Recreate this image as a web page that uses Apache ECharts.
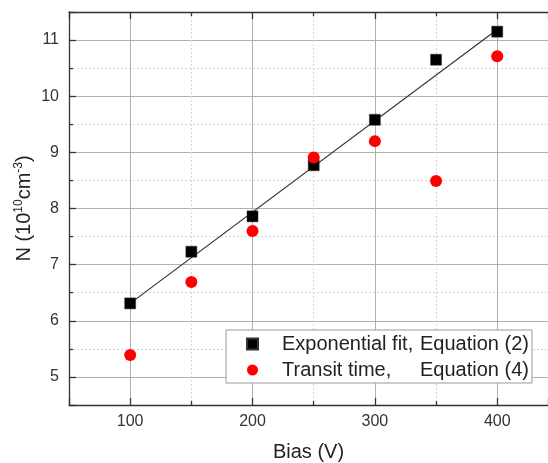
<!DOCTYPE html>
<html>
<head>
<meta charset="utf-8">
<script src="https://cdn.jsdelivr.net/npm/echarts@6/dist/echarts.min.js"></script>
<style>
  html, body { margin: 0; padding: 0; background: #fff; }
  #chart { width: 548px; height: 463px; }
</style>
</head>
<body>
<div id="chart"></div>
<script>
// bias voltage (V)
const biasV = [100, 150, 200, 250, 300, 350, 400];
// N from exponential fit, Equation (2)
const expFitN = [6.31, 7.23, 7.86, 8.77, 9.58, 10.65, 11.15];
// N from transit time, Equation (4)
const transitN = [5.39, 6.69, 7.60, 8.91, 9.20, 8.49, 10.71];
// straight fit line through the squares
const fitLineX = [100, 400];
const fitLineN = [6.31, 11.19];

const seriesNames = ["Exponential fit, Equation (2)", "Transit time,     Equation (4)"];

const font = "Liberation Sans, Arial, sans-serif";

const chart = echarts.init(document.getElementById("chart"), null, { renderer: "canvas" });

function pairs(xs, ys) {
  return xs.map((x, i) => [x, ys[i]]);
}

// the frame runs off the right side of the picture, so the axis stops where the canvas does
const xMin = 50;
const xMax = 441.5;

const axisColor = "#333";
const majorSplit = { show: true, lineStyle: { color: "#b0b0b0", width: 1, type: "solid" } };
const minorSplit = { show: true, lineStyle: { color: "#d4d4d4", width: 1, type: [2, 2] } };

const option = {
  animation: false,
  backgroundColor: "#fff",
  grid: { left: 69, top: 12, right: 0, bottom: 58, containLabel: false, outerBoundsMode: "none" },
  xAxis: [
    {
      type: "value",
      min: xMin,
      max: xMax,
      splitNumber: 4,
      minInterval: 100,
      maxInterval: 100,
      name: "Bias (V)",
      nameLocation: "middle",
      nameGap: 37,
      nameTextStyle: { fontFamily: font, fontSize: 20, color: "#222" },
      axisLine: { show: true, onZero: false, lineStyle: { color: axisColor, width: 1.3 } },
      axisTick: { show: true, inside: true, length: 7, lineStyle: { color: axisColor, width: 1.3 } },
      minorTick: { show: true, splitNumber: 2, length: 4, lineStyle: { color: axisColor, width: 1.3 } },
      axisLabel: { fontFamily: font, fontSize: 16, color: "#333", margin: 9, showMinLabel: false, showMaxLabel: false },
      splitLine: majorSplit,
      minorSplitLine: minorSplit
    },
    {
      type: "value",
      position: "top",
      min: xMin,
      max: xMax,
      splitNumber: 4,
      minInterval: 100,
      maxInterval: 100,
      axisLine: { show: true, onZero: false, lineStyle: { color: axisColor, width: 1.3 } },
      axisTick: { show: true, inside: true, length: 7, lineStyle: { color: axisColor, width: 1.3 } },
      minorTick: { show: true, splitNumber: 2, length: 4, lineStyle: { color: axisColor, width: 1.3 } },
      axisLabel: { show: false },
      splitLine: { show: false }
    }
  ],
  yAxis: {
    type: "value",
    min: 4.5,
    max: 11.5,
    splitNumber: 7,
    minInterval: 1,
    maxInterval: 1,
    name: "N (10{sup|10}cm{sup|-3})",
    nameLocation: "middle",
    nameRotate: 90,
    nameGap: 34,
    nameMoveOverlap: false,
    nameTextStyle: {
      fontFamily: font,
      fontSize: 20,
      color: "#222",
      rich: {
        sup: { fontFamily: font, fontSize: 12, color: "#222", verticalAlign: "top", lineHeight: 22 }
      }
    },
    axisLine: { show: true, onZero: false, lineStyle: { color: axisColor, width: 1.3 } },
    axisTick: { show: true, inside: true, length: 7, lineStyle: { color: axisColor, width: 1.3 } },
    minorTick: { show: true, splitNumber: 2, length: 4, lineStyle: { color: axisColor, width: 1.3 } },
    axisLabel: { fontFamily: font, fontSize: 16, color: "#333", margin: 10, showMinLabel: false, showMaxLabel: false },
    splitLine: majorSplit,
    minorSplitLine: minorSplit
  },
  legend: {
    data: [
      { name: seriesNames[0], icon: "rect" },
      { name: seriesNames[1], icon: "circle" }
    ],
    orient: "vertical",
    left: 226,
    top: 330,
    padding: [2, 3, 1, 20],
    itemGap: 2,
    itemWidth: 11,
    itemHeight: 11,
    backgroundColor: "#fff",
    borderColor: "#999",
    borderWidth: 1,
    borderRadius: 0,
    selectedMode: false,
    formatter: function (name) {
      const parts = name.split(/,\s+/);
      return "{s|}{a|" + parts[0] + ",}{b|" + parts[1] + "}";
    },
    textStyle: {
      fontFamily: font,
      fontSize: 20,
      lineHeight: 24,
      color: "#222",
      rich: {
        s: { width: 19, lineHeight: 24 },
        a: { width: 138, fontFamily: font, fontSize: 20, color: "#222", lineHeight: 24 },
        b: { fontFamily: font, fontSize: 20, color: "#222", lineHeight: 24 }
      }
    }
  },
  series: [
    {
      name: "fit",
      type: "line",
      data: pairs(fitLineX, fitLineN),
      showSymbol: false,
      symbol: "none",
      lineStyle: { color: "#333", width: 1.2 },
      z: 1
    },
    {
      name: seriesNames[0],
      type: "scatter",
      symbol: "rect",
      symbolSize: 11,
      data: pairs(biasV, expFitN),
      itemStyle: { color: "#000", borderColor: "#333", borderWidth: 0.5, opacity: 1 },
      z: 2
    },
    {
      name: seriesNames[1],
      type: "scatter",
      symbol: "circle",
      symbolSize: 12,
      data: pairs(biasV, transitN),
      itemStyle: { color: "#ff0000", opacity: 1 },
      z: 3
    }
  ]
};

chart.setOption(option);
</script>
</body>
</html>
